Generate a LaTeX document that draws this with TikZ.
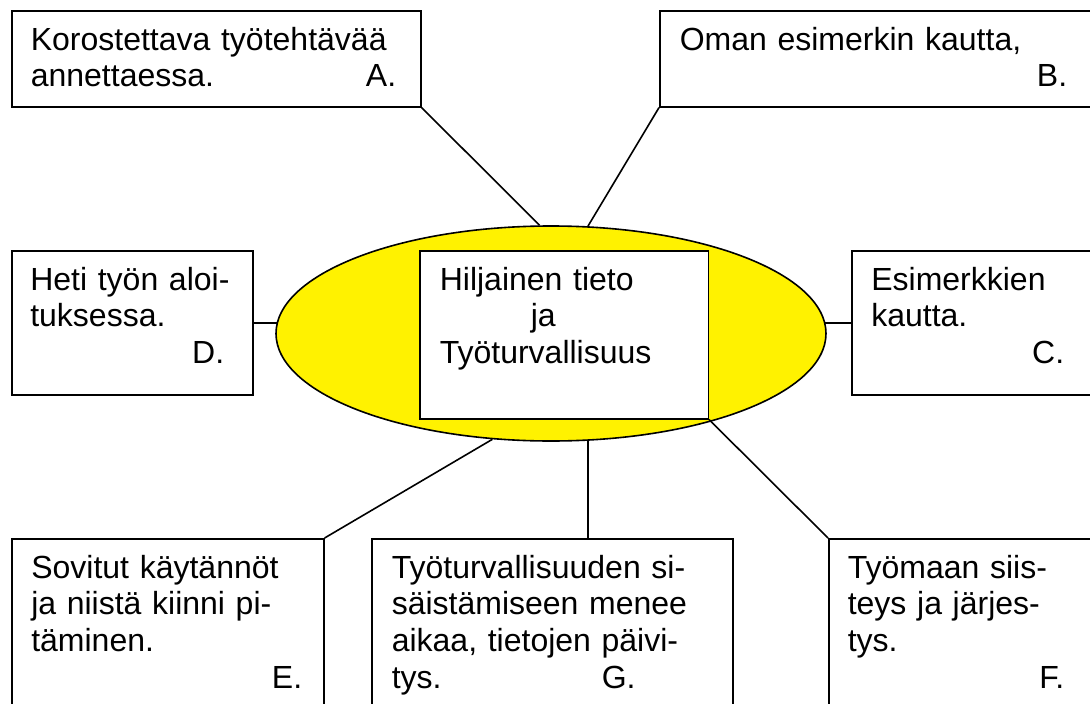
\documentclass[tikz,border=0pt]{standalone}
\usepackage{fontspec}
\setmainfont{Liberation Sans}
\usetikzlibrary{shapes,positioning}

\begin{document}
\begin{tikzpicture}[x=1pt, y=-1pt, line width=1.6pt,
    box/.style={draw, anchor=north west, inner sep=0pt},
    txt/.style={anchor=base west, inner sep=0pt, align=left, text width=400pt, font=\fontsize{32}{36.8}\selectfont},
    lbl/.style={anchor=base east, inner sep=0pt, font=\fontsize{32}{36.8}\selectfont}]
    \useasboundingbox (0,0) rectangle (1090,704);

    % Ellipse and title box
    \node[draw, ellipse, fill=yellow, minimum width=550pt, minimum height=215pt, inner sep=0pt] (ell) at (551,333.5) {};
    \node[box, fill=white, minimum width=288.5pt, minimum height=168pt] (core) at (419,250) {};
    \node[txt] (coretxt) at (439,290) {Hiljainen tieto\\\hspace*{91pt}ja\\Työturvallisuus};

    % Boxes
    \node[box, minimum width=409pt, minimum height=96pt] (A) at (11,10) {};
    \node[box, minimum width=450pt, minimum height=96pt] (B) at (659,10) {};
    \node[box, minimum width=241pt, minimum height=144pt] (D) at (11,250) {};
    \node[box, minimum width=260pt, minimum height=144pt] (C) at (851,250) {};
    \node[box, minimum width=312pt, minimum height=180pt] (E) at (11,538) {};
    \node[box, minimum width=361pt, minimum height=180pt] (G) at (371,538) {};
    \node[box, minimum width=280pt, minimum height=180pt] (F) at (828,538) {};

    % Texts
    \node[txt] (Atxt) at (30,50) {Korostettava työtehtävää\\annettaessa.};
    \node[lbl] (Albl) at (397,86.8) {A.};
    \node[txt] (Btxt) at (679,50) {Oman esimerkin kautta,};
    \node[lbl] (Blbl) at (1068,86.8) {B.};
    \node[txt] (Dtxt) at (29.5,290) {Heti työn aloi-\\tuksessa.};
    \node[lbl] (Dlbl) at (225,363.6) {D.};
    \node[txt] (Ctxt) at (870.5,290) {Esimerkkien\\kautta.};
    \node[lbl] (Clbl) at (1065,363.6) {C.};
    \node[txt] (Etxt) at (30.5,578) {Sovitut käytännöt\\ja niistä kiinni pi-\\täminen.};
    \node[lbl] (Elbl) at (303,688.4) {E.};
    \node[txt] (Gtxt) at (391,578) {Työturvallisuuden si-\\säistämiseen menee\\aikaa, tietojen päivi-\\tys.};
    \node[lbl, anchor=base west] (Glbl) at (601,688.4) {G.};
    \node[txt] (Ftxt) at (847,578) {Työmaan siis-\\teys ja järjes-\\tys.};
    \node[lbl] (Flbl) at (1065,688.4) {F.};

    % Connect nodes
    \draw (A.south east) -- (ell.96);
    \draw (B.south west) -- (ell.71);
    \draw (D.east) -- ([xshift=1.5pt]D.east -| ell.west);
    \draw ([xshift=-1.5pt]C.west -| ell.east) -- (C.west);
    \draw (ell.241) -- (E.north east);
    \draw (ell.289) -- (ell.289 |- G.north);
    \draw (core.south east) -- (F.north west);
\end{tikzpicture}
\end{document}
